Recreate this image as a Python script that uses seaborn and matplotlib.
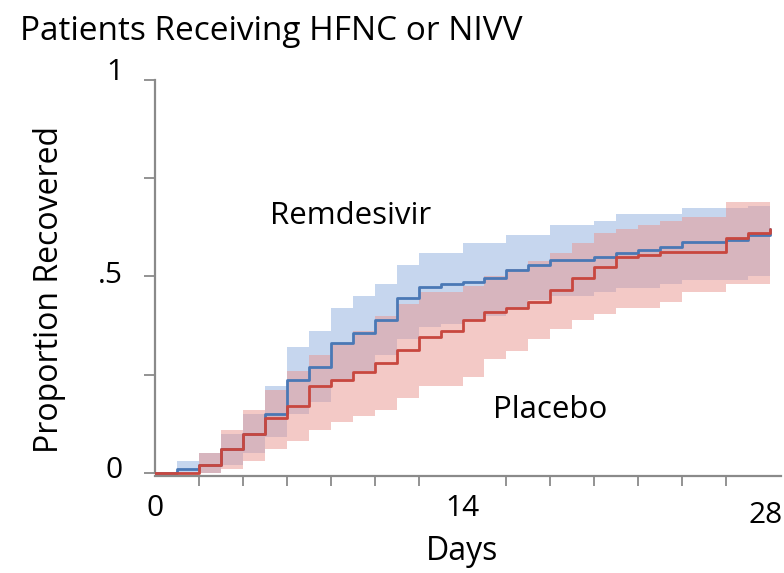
import numpy as np
import pandas as pd
import matplotlib
matplotlib.use("Agg")
import matplotlib.pyplot as plt
from matplotlib.transforms import ScaledTranslation
import seaborn as sns

# Kaplan-Meier style cumulative recovery, one value per day (0..28)
days = list(range(29))

remdesivir = [0, 0.01, 0.02, 0.06, 0.10, 0.15, 0.237, 0.27, 0.33, 0.356, 0.39,
              0.445, 0.473, 0.48, 0.486, 0.496, 0.517, 0.529, 0.542, 0.542,
              0.55, 0.56, 0.567, 0.575, 0.588, 0.588, 0.593, 0.605, 0.62]
remdesivir_lo = [0, 0, 0, 0.02, 0.05, 0.09, 0.15, 0.18, 0.23, 0.26, 0.30,
                 0.34, 0.37, 0.38, 0.39, 0.40, 0.42, 0.44, 0.45, 0.45, 0.46,
                 0.47, 0.47, 0.48, 0.49, 0.49, 0.49, 0.50, 0.50]
remdesivir_hi = [0, 0.03, 0.05, 0.10, 0.15, 0.22, 0.32, 0.36, 0.42, 0.45, 0.48,
                 0.53, 0.56, 0.56, 0.585, 0.585, 0.605, 0.605, 0.63, 0.63, 0.64,
                 0.66, 0.66, 0.66, 0.675, 0.675, 0.675, 0.68, 0.68]

placebo = [0, 0, 0.02, 0.06, 0.10, 0.14, 0.17, 0.22, 0.237, 0.257, 0.28,
           0.313, 0.346, 0.36, 0.39, 0.41, 0.42, 0.435, 0.466, 0.496, 0.525,
           0.55, 0.555, 0.562, 0.562, 0.562, 0.598, 0.61, 0.62]
placebo_lo = [0, 0, 0, 0.01, 0.03, 0.06, 0.08, 0.11, 0.13, 0.145, 0.16, 0.19,
              0.22, 0.22, 0.245, 0.29, 0.31, 0.34, 0.365, 0.39, 0.405, 0.42,
              0.42, 0.435, 0.46, 0.46, 0.48, 0.48, 0.48]
placebo_hi = [0, 0, 0.05, 0.11, 0.16, 0.21, 0.26, 0.30, 0.33, 0.36, 0.40,
              0.43, 0.46, 0.46, 0.475, 0.50, 0.52, 0.54, 0.56, 0.585, 0.61,
              0.62, 0.63, 0.64, 0.65, 0.65, 0.69, 0.69, 0.69]

arms = ["Remdesivir", "Placebo"]
line_colors = {"Remdesivir": "#4a78b5", "Placebo": "#c8473f"}

x_ticks = [0, 14, 28]
x_tick_labels = ["0", "14", "28"]
y_ticks = [0, 0.5, 1]
y_tick_labels = ["0", ".5", "1"]

df = pd.DataFrame({
    "day": days + days,
    "prop": remdesivir + placebo,
    "arm": ["Remdesivir"] * len(days) + ["Placebo"] * len(days),
})

sns.set_theme(style="white")
plt.rcParams["font.family"] = ["Open Sans", "DejaVu Sans"]
plt.rcParams["text.color"] = "black"
plt.rcParams["axes.labelcolor"] = "black"

fig = plt.figure(figsize=(7.84, 5.73), dpi=100)
ax = fig.add_axes([155 / 784, 1 - 476 / 573, 626 / 784, (476 - 80) / 573])

# confidence bands
ax.fill_between(days, remdesivir_lo, remdesivir_hi, step="post",
                color="#c6d6ee", linewidth=0, zorder=1)
ax.fill_between(days, placebo_lo, placebo_hi, step="post",
                color="#e8958f", alpha=0.5, linewidth=0, zorder=2)

sns.lineplot(data=df, x="day", y="prop", hue="arm", hue_order=arms,
             palette=line_colors, drawstyle="steps-post", linewidth=2.0,
             legend=False, errorbar=None, ax=ax, zorder=3)

ax.set_xlim(0, 28.5)
ax.set_ylim(-0.008, 1)

for side in ("top", "right"):
    ax.spines[side].set_visible(False)
for side in ("left", "bottom"):
    ax.spines[side].set_color("#8a8a8a")
    ax.spines[side].set_linewidth(1.6)
ax.spines["left"].set_bounds(0, 1)

ax.set_xticks(x_ticks)
ax.set_xticklabels(x_tick_labels, fontsize=21.5)
ax.set_xticks([d for d in range(2, 29, 2) if d != 14], minor=True)
ax.tick_params(axis="x", which="major", length=0, pad=13, labelcolor="black")
ax.tick_params(axis="x", which="minor", length=7, width=1.3,
               color="#8a8a8a", direction="out", bottom=True)

ax.set_yticks(y_ticks)
ax.set_yticklabels(y_tick_labels, fontsize=21.5)
ax.set_yticks([0.25, 0.75], minor=True)
ax.tick_params(axis="y", which="both", length=8, width=1.3,
               color="#8a8a8a", direction="out", left=True, pad=15,
               labelcolor="black")

# nudge the tick labels the way they sit on the original figure
dpi_tr = fig.dpi_scale_trans
xt = ax.get_xticklabels()
xt[-1].set_transform(xt[-1].get_transform() +
                     ScaledTranslation(-3 / 72, -5 / 72, dpi_tr))
yt = ax.get_yticklabels()
for lbl, dy in zip(yt, (4, 3, 8)):
    lbl.set_transform(lbl.get_transform() + ScaledTranslation(0, dy / 72, dpi_tr))

ax.set_xlabel("Days", fontsize=23, va="center")
ax.xaxis.set_label_coords((462 - 155) / 626, (476 - 551) / 396)
ax.set_ylabel("Proportion Recovered", fontsize=23, va="center")
ax.yaxis.set_label_coords((50 - 155) / 626, 0.47)

ax.text(5.24, 0.655, "Remdesivir", fontsize=22.5, ha="left", va="center")
ax.text(15.4, 0.16, "Placebo", fontsize=22.5, ha="left", va="center")

fig.text(20 / 784, 1 - 31 / 573, "Patients Receiving HFNC or NIVV",
         fontsize=24, ha="left", va="center")

fig.savefig("out.png", dpi=100, facecolor="white")
